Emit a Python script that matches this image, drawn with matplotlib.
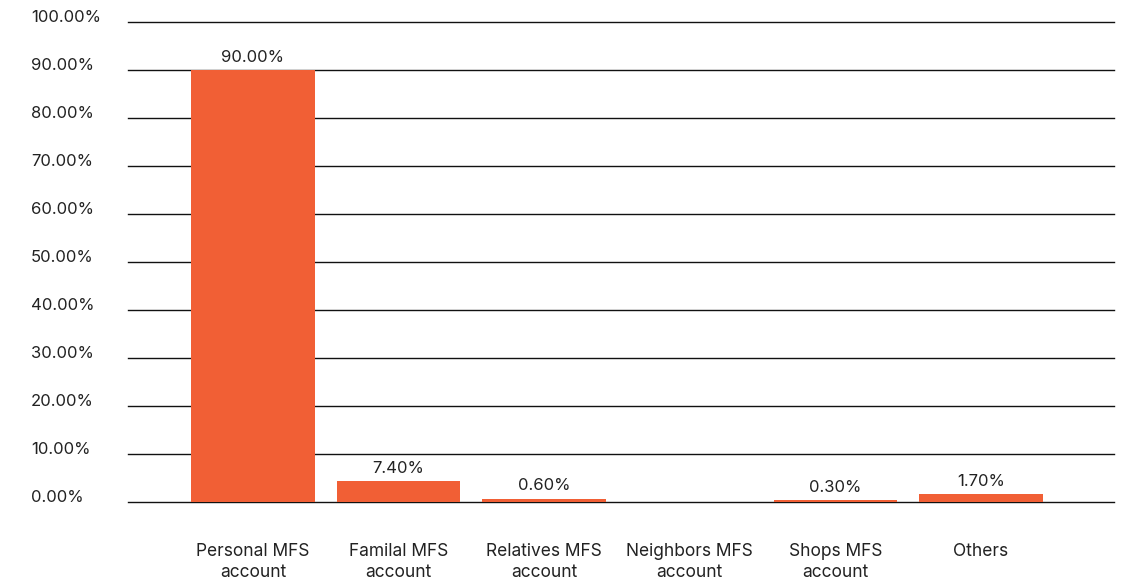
import matplotlib.pyplot as plt
from matplotlib.transforms import blended_transform_factory

categories = ["Personal MFS\naccount", "Familal MFS\naccount", "Relatives MFS\naccount",
              "Neighbors MFS\naccount", "Shops MFS\naccount", "Others"]
# bar heights as drawn in the picture, labels as printed
bar_heights = [90.0, 4.4, 0.7, 0.0, 0.4, 1.7]
value_labels = ["90.00%", "7.40%", "0.60%", "", "0.30%", "1.70%"]
y_ticks = [0, 10, 20, 30, 40, 50, 60, 70, 80, 90, 100]

plt.rcParams["font.family"] = ["Inter", "DejaVu Sans"]

fig = plt.figure(figsize=(11.24, 5.84), dpi=100)
ax = fig.add_axes([128 / 1124, 82 / 584, 986 / 1124, 480 / 584])

x = list(range(len(categories)))
ax.bar(x, bar_heights, width=0.85, color="#F15F35", zorder=3)

for t in y_ticks:
    ax.axhline(t, color="#111111", linewidth=1.0, zorder=1, clip_on=False)

ax.set_xlim(-0.858, 5.913)
ax.set_ylim(0, 100)
for s in ax.spines.values():
    s.set_visible(False)
ax.set_xticks([])
ax.set_yticks([])

# y tick labels, left aligned and sitting just above each gridline
tr = blended_transform_factory(fig.transFigure, ax.transData)
for t in y_ticks:
    fig.text(31 / 1124, t + 1.0, f"{t:.2f}%", transform=tr, ha="left", va="center",
             fontsize=12, color="#222222")

for xi, h, lab in zip(x, bar_heights, value_labels):
    if lab:
        ax.text(xi, h + 1.1, lab, ha="center", va="bottom", fontsize=12, color="#222222")

trx = blended_transform_factory(ax.transData, fig.transFigure)
for xi, c in zip(x, categories):
    fig.text(xi, 1 - 543 / 584, c, transform=trx, ha="center", va="top",
             fontsize=12.5, color="#222222", linespacing=1.3)

fig.savefig("out.png", dpi=100)
